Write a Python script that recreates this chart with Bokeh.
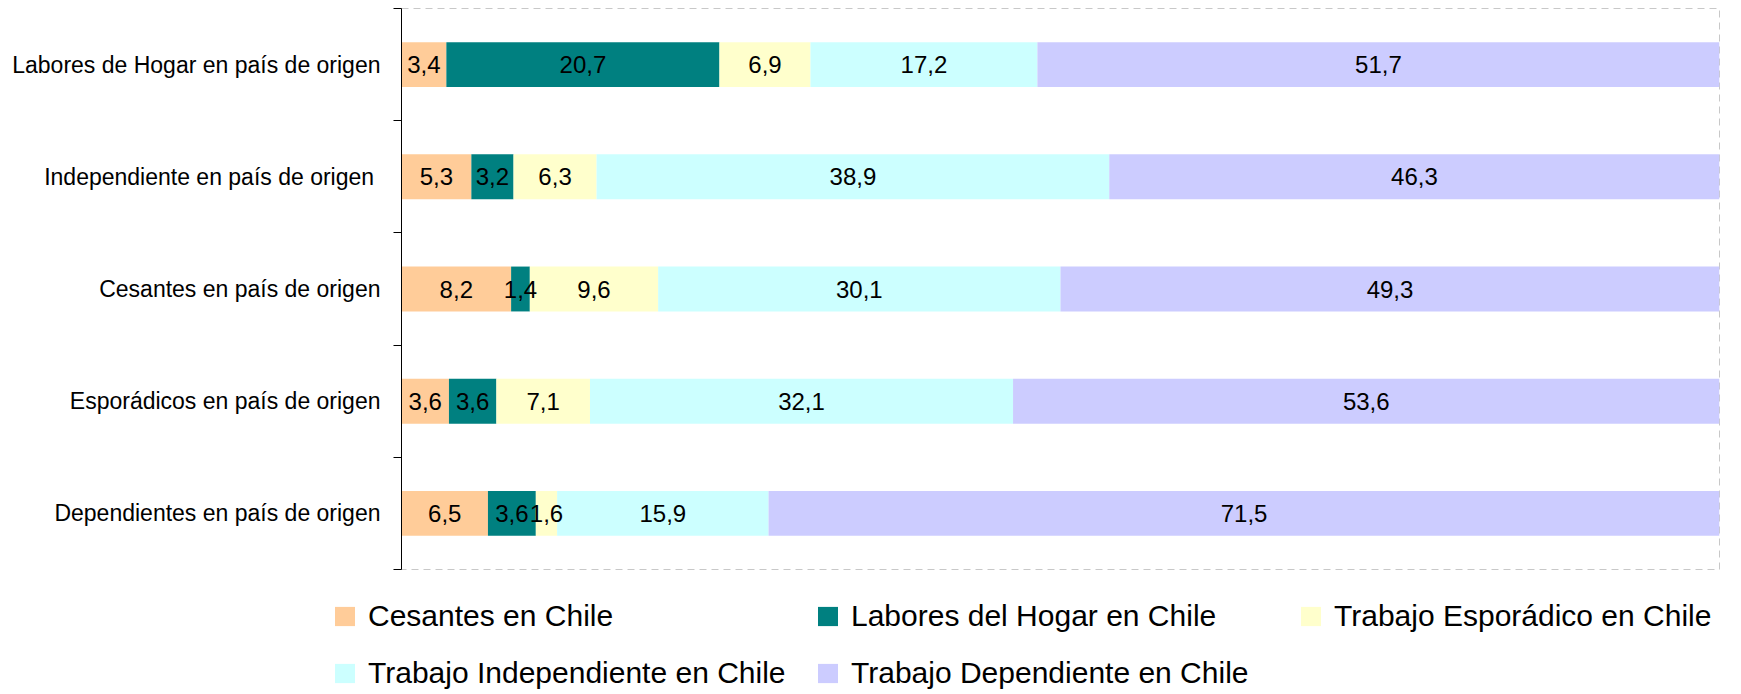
from bokeh.plotting import figure
from bokeh.models import ColumnDataSource, Range1d, FixedTicker, Legend, LegendItem
from bokeh.layouts import column
from bokeh.core.properties import value
from bokeh.embed import file_html
from bokeh.resources import INLINE

categories = [
    "Labores de Hogar en país de origen",
    "Independiente en país de origen ",
    "Cesantes en país de origen",
    "Esporádicos en país de origen",
    "Dependientes en país de origen",
]
series = [
    "Cesantes en Chile",
    "Labores del Hogar en Chile",
    "Trabajo Esporádico en Chile",
    "Trabajo Independiente en Chile",
    "Trabajo Dependiente en Chile",
]
cesantes = [3.4, 5.3, 8.2, 3.6, 6.5]
labores = [20.7, 3.2, 1.4, 3.6, 3.6]
esporadico = [6.9, 6.3, 9.6, 7.1, 1.6]
independiente = [17.2, 38.9, 30.1, 32.1, 15.9]
dependiente = [51.7, 46.3, 49.3, 53.6, 71.5]
colors = ["#FFCC99", "#008080", "#FFFFCC", "#CCFFFF", "#CCCCFF"]

values = [cesantes, labores, esporadico, independiente, dependiente]
n = len(categories)
ypos = [n - i - 0.5 for i in range(n)]
totals = [sum(v[i] for v in values) for i in range(n)]

FONT = "Liberation Sans"

W = 1741
H_MAIN = 571
H_LEG = 123

p = figure(width=W, height=H_MAIN, x_range=Range1d(0, 100), y_range=Range1d(0, n),
           x_axis_location=None, output_backend="svg", toolbar_location=None,
           min_border_left=401, min_border_right=22, min_border_top=8, min_border_bottom=2)
p.xgrid.visible = False
p.ygrid.visible = False
p.outline_line_color = "#c8c8c8"
p.outline_line_dash = "7 5"
p.outline_line_width = 1
p.frame_align = False

ax = p.yaxis[0]
ax.ticker = FixedTicker(ticks=ypos, minor_ticks=list(range(n + 1)))
ax.major_label_overrides = {y: c for y, c in zip(ypos, categories)}
ax.major_tick_line_color = None
ax.major_tick_out = 0
ax.major_tick_in = 0
ax.minor_tick_out = 8
ax.minor_tick_in = 0
ax.minor_tick_line_color = "black"
ax.axis_line_color = "black"
ax.major_label_text_font = FONT
ax.major_label_text_font_size = "23px"
ax.major_label_text_color = "black"
ax.major_label_standoff = 13

# legend figure (below the chart)
q = figure(width=W, height=H_LEG, x_range=Range1d(0, 1), y_range=Range1d(0, 1),
           x_axis_location=None, y_axis_location=None, output_backend="svg",
           toolbar_location=None, min_border=0)
q.xgrid.visible = False
q.ygrid.visible = False
q.outline_line_color = None
q.frame_align = False

left = [0.0] * n
lx, ly, lt = [], [], []
leg_renderers = []
for s, vals, col in zip(series, values, colors):
    pct = [v / t * 100 for v, t in zip(vals, totals)]
    right = [a + b for a, b in zip(left, pct)]
    src = ColumnDataSource(dict(y=ypos, left=left, right=right))
    p.hbar(y="y", left="left", right="right", height=0.4, source=src,
           fill_color=col, line_color=None)
    # legend proxy sharing the same data (not shown in the legend figure)
    rq = q.hbar(y="y", left="left", right="right", height=0.4, source=src,
                fill_color=col, line_color=None, visible=False)
    leg_renderers.append(rq)
    for i in range(n):
        lx.append((left[i] + right[i]) / 2)
        ly.append(ypos[i])
        lt.append(f"{vals[i]:.1f}".replace(".", ","))
    left = right

p.text(x=lx, y=ly, text=lt, text_font=value(FONT), text_font_size="24px",
       text_align="center", text_baseline="middle", text_color="black")

def make_legend(idx, loc):
    return Legend(items=[LegendItem(label=series[i], renderers=[leg_renderers[i]]) for i in idx],
                  orientation="horizontal", location=loc,
                  glyph_width=25, glyph_height=24, label_standoff=11, label_width=437,
                  label_height=24, spacing=10, padding=0, margin=0,
                  border_line_color=None, background_fill_alpha=0,
                  inactive_fill_alpha=0,
                  label_text_font=FONT, label_text_font_size="30px",
                  label_text_color="black")

q.add_layout(make_legend([0, 1, 2], (332, 61)))
q.add_layout(make_legend([3, 4], (332, 4)))

layout = column(p, q, spacing=0)
open("out.html", "w").write(file_html(layout, INLINE))
